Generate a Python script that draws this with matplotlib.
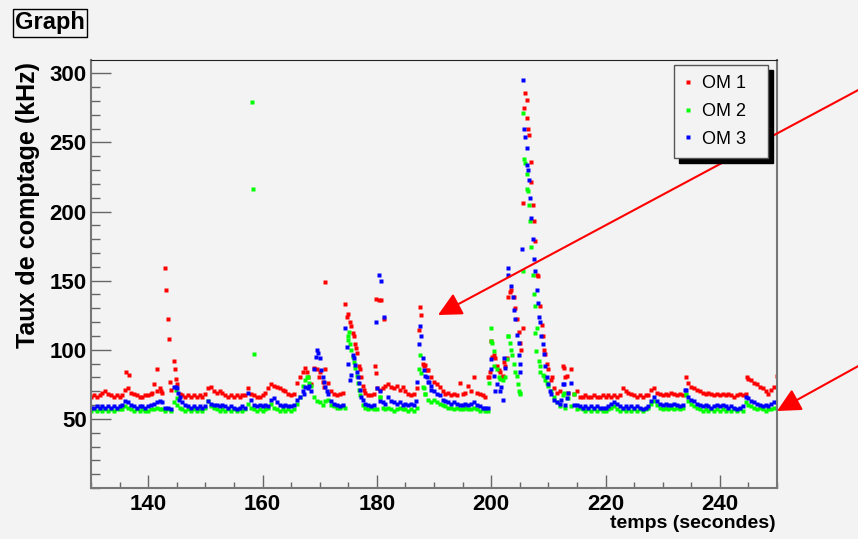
import numpy as np
import matplotlib
matplotlib.use("Agg")
import matplotlib.pyplot as plt
from matplotlib.ticker import MultipleLocator

# comptage des 3 OM, un point toutes les 0.5 s de 130 a 250 s
t0, t1, dt = 130.0, 250.0, 0.5

om1 = [
    66, 67, 66, 67, 69, 70, 68, 67, 66, 67,
    66, 67, 71, 72, 69, 68, 67, 66, 66, 67,
    67, 68, 75, 86, 72, 69, 159, 122, 71, 92,
    75, 68, 67, 66, 67, 66, 67, 66, 67, 66,
    68, 72, 73, 70, 69, 70, 69, 67, 66, 67,
    66, 67, 66, 67, 67, 72, 68, 67, 66, 66,
    67, 69, 72, 75, 74, 73, 72, 71, 70, 68,
    67, 68, 76, 80, 84, 87, 80, 75, 87, 86,
    84, 77, 86, 76, 70, 68, 67, 68, 69, 133,
    126, 117, 110, 98, 86, 74, 69, 67, 67, 68,
    72, 71, 72, 74, 75, 73, 72, 74, 71, 73,
    70, 68, 67, 68, 72, 131, 90, 89, 85, 80,
    77, 75, 73, 70, 68, 69, 67, 68, 67, 76,
    68, 69, 74, 70, 80, 69, 68, 67, 66, 80,
    106, 96, 88, 84, 81, 88, 138, 143, 138, 122,
    105, 116, 286, 260, 221, 193, 154, 132, 110, 97,
    86, 78, 72, 69, 70, 88, 80, 69, 86, 68,
    70, 66, 66, 67, 66, 66, 67, 66, 66, 67,
    66, 67, 66, 67, 66, 67, 72, 70, 69, 68,
    67, 66, 67, 66, 67, 67, 71, 72, 69, 68,
    67, 68, 67, 69, 68, 67, 68, 67, 80, 76,
    73, 72, 71, 70, 69, 68, 69, 68, 67, 68,
    67, 68, 67, 68, 67, 66, 67, 68, 67, 68,
    79, 78, 76, 75, 73, 72, 70, 68, 71, 73,
    81]

om2 = [
    56, 57, 56, 57, 56, 57, 56, 57, 56, 57,
    57, 57, 59, 58, 57, 56, 57, 56, 57, 56,
    56, 57, 57, 58, 57, 57, 56, 57, 56, 62,
    60, 58, 57, 56, 57, 56, 57, 56, 57, 56,
    58, 63, 59, 58, 57, 56, 57, 56, 57, 56,
    57, 56, 57, 56, 57, 61, 58, 57, 56, 57,
    56, 57, 58, 61, 58, 57, 56, 57, 56, 57,
    56, 57, 61, 66, 74, 78, 80, 74, 66, 63,
    62, 60, 63, 64, 60, 59, 58, 58, 59, 58,
    110, 100, 91, 81, 67, 60, 58, 57, 58, 57,
    57, 66, 58, 57, 58, 57, 56, 57, 58, 57,
    57, 56, 57, 56, 58, 96, 73, 68, 64, 62,
    64, 62, 61, 60, 59, 58, 58, 57, 58, 57,
    57, 58, 57, 57, 58, 57, 56, 57, 56, 56,
    106, 99, 86, 79, 78, 80, 110, 100, 90, 81,
    69, 157, 235, 215, 174, 140, 116, 88, 82, 78,
    74, 70, 66, 62, 59, 67, 58, 65, 59, 68,
    57, 58, 57, 56, 57, 56, 57, 56, 57, 56,
    56, 57, 58, 59, 57, 56, 57, 56, 57, 56,
    57, 56, 57, 56, 57, 58, 61, 63, 60, 58,
    57, 58, 57, 58, 57, 58, 57, 58, 68, 63,
    61, 59, 58, 57, 56, 57, 56, 57, 56, 57,
    56, 57, 56, 57, 56, 57, 56, 57, 56, 62,
    60, 59, 58, 57, 58, 57, 56, 57, 57, 58,
    58]

om3 = [
    58, 58, 59, 58, 59, 58, 59, 58, 59, 58,
    59, 60, 63, 62, 60, 59, 58, 59, 59, 58,
    59, 60, 61, 62, 63, 62, 58, 58, 57, 73,
    72, 66, 62, 60, 59, 58, 59, 58, 59, 58,
    59, 63, 61, 60, 60, 59, 60, 59, 58, 59,
    58, 57, 58, 59, 58, 69, 64, 60, 59, 60,
    59, 60, 59, 64, 65, 62, 60, 59, 60, 59,
    59, 60, 64, 66, 70, 73, 72, 70, 86, 100,
    94, 80, 73, 68, 63, 61, 60, 59, 60, 116,
    90, 82, 94, 84, 71, 64, 61, 60, 59, 60,
    72, 63, 62, 61, 66, 63, 62, 61, 62, 60,
    61, 60, 61, 60, 77, 117, 94, 81, 77, 71,
    70, 68, 67, 64, 63, 62, 61, 62, 61, 60,
    60, 61, 60, 61, 62, 60, 59, 58, 58, 58,
    86, 81, 75, 70, 64, 87, 159, 146, 129, 111,
    90, 295, 254, 230, 195, 166, 143, 120, 104, 88,
    75, 68, 64, 62, 61, 75, 60, 69, 76, 60,
    60, 59, 58, 59, 58, 59, 58, 59, 58, 58,
    58, 59, 61, 62, 61, 59, 58, 59, 58, 59,
    58, 59, 58, 57, 58, 59, 63, 66, 63, 61,
    60, 61, 60, 60, 61, 60, 59, 60, 71, 66,
    64, 63, 61, 60, 59, 60, 59, 58, 59, 60,
    59, 60, 59, 58, 59, 58, 57, 58, 59, 66,
    65, 63, 62, 61, 60, 59, 60, 59, 61, 62,
    62]

# points hors grille (pics), (temps, taux)
om1_extra = [(136.1, 84), (136.6, 82), (140.7, 69), (141.6, 70), (142.3, 70),
             (143.2, 143), (143.7, 108), (143.8, 77), (144.75, 86), (144.9, 79),
             (167.8, 84), (169.8, 80), (170.8, 73), (170.9, 149), (174.8, 124),
             (175.3, 120), (175.85, 112), (176.2, 104), (176.3, 101), (176.9, 88),
             (177.2, 80), (177.7, 71), (179.75, 88), (179.8, 83), (179.9, 137),
             (180.3, 136), (180.8, 136), (181.2, 122), (187.3, 114), (187.7, 125),
             (188.3, 88), (188.8, 85), (199.6, 80), (199.8, 84), (200.2, 95),
             (200.75, 94), (201.3, 85), (201.9, 80), (202.2, 91), (202.8, 94),
             (203.3, 142), (204.2, 130), (204.8, 113), (205.2, 100), (205.6, 206),
             (205.7, 275), (206.2, 281), (206.35, 268), (206.7, 255), (206.9, 236),
             (207.3, 205), (207.7, 179), (208.2, 153), (208.9, 118), (209.2, 100),
             (209.8, 90), (210.7, 80), (212.7, 87), (213.3, 81), (244.8, 80)]

om2_extra = [(144.8, 71), (145.1, 65), (158.2, 279), (158.35, 216), (158.6, 97),
             (167.8, 80), (168.1, 76), (174.9, 107), (175.1, 113), (175.3, 104),
             (175.8, 95), (176.2, 87), (176.7, 76), (176.9, 71), (180.6, 66),
             (187.3, 86), (187.8, 83), (188.2, 72), (188.4, 68), (199.7, 76),
             (199.9, 116), (200.2, 105), (200.45, 88), (201.3, 80), (202.8, 93),
             (202.9, 110), (203.3, 105), (203.7, 96), (204.2, 84), (204.65, 75),
             (204.8, 70), (205.1, 68), (205.6, 271), (205.7, 238), (206.2, 227),
             (206.35, 216), (206.7, 205), (206.8, 193), (207.3, 154), (207.6, 132),
             (207.75, 112), (207.9, 99), (208.3, 92), (208.6, 84), (209.2, 81),
             (209.8, 76), (212.7, 69), (234.0, 67)]

om3_extra = [(144.8, 73), (145.2, 69), (145.4, 64), (167.3, 68), (168.2, 74),
             (169.3, 95), (169.7, 98), (170.2, 85), (170.7, 77), (171.2, 70),
             (174.8, 102), (175.3, 78), (175.85, 96), (176.1, 89), (176.7, 80),
             (176.9, 76), (177.2, 66), (179.9, 120), (180.3, 154), (180.8, 150),
             (181.2, 124), (180.6, 70), (186.9, 63), (187.3, 104), (187.7, 110),
             (188.2, 85), (188.8, 80), (189.1, 77), (189.4, 74), (199.9, 93),
             (200.75, 70), (201.8, 73), (202.3, 94), (202.9, 154), (203.8, 138),
             (204.25, 122), (204.8, 105), (204.9, 96), (205.1, 84), (205.4, 173),
             (205.7, 260), (206.2, 246), (206.35, 234), (206.7, 223), (206.8, 210),
             (207.3, 180), (207.6, 157), (208.2, 134), (208.3, 124), (208.7, 110),
             (209.3, 97), (209.8, 80), (210.3, 70), (212.3, 64), (212.7, 75),
             (213.3, 65), (233.9, 71)]

labels = ["OM 1", "OM 2", "OM 3"]
colors = ["#ff0000", "#00ff00", "#0000ff"]
xticks = [140, 160, 180, 200, 220, 240]
yticks = [50, 100, 150, 200, 250, 300]

bg = "#f3f3f3"
plt.rcParams["font.family"] = ["Liberation Sans", "DejaVu Sans"]

fig = plt.figure(figsize=(8.58, 5.39), dpi=100, facecolor=bg)
ax = fig.add_axes([91 / 858, 1 - 488 / 539, 686 / 858, 428 / 539], facecolor=bg)

times = np.arange(t0, t1 + dt / 2, dt)
for grid, extra, lab, col in zip([om1, om2, om3], [om1_extra, om2_extra, om3_extra], labels, colors):
    tt = np.concatenate([times, [p[0] for p in extra]])
    vv = np.concatenate([grid, [p[1] for p in extra]])
    ax.plot(tt, vv, "s", ms=2.9, mec="none", color=col, label=lab)

ax.set_xlim(130, 250)
ax.set_ylim(0, 309.6)
ax.set_xticks(xticks)
ax.set_xticklabels([str(x) for x in xticks], fontsize=16, fontweight="bold")
ax.set_yticks(yticks)
ax.set_yticklabels([str(y) for y in yticks], fontsize=16, fontweight="bold")
ax.xaxis.set_minor_locator(MultipleLocator(5))
ax.yaxis.set_minor_locator(MultipleLocator(10))
ax.tick_params(axis="x", which="major", direction="in", length=9.5, width=1, color="#666666", pad=4)
ax.tick_params(axis="x", which="minor", direction="in", length=4, width=1, color="#666666")
ax.tick_params(axis="y", which="major", direction="in", length=14.5, width=1, color="#666666", pad=3)
ax.tick_params(axis="y", which="minor", direction="in", length=6.5, width=1, color="#666666")
for s in ["left", "bottom", "right"]:
    ax.spines[s].set_color("#777777")
    ax.spines[s].set_linewidth(1.5)
ax.spines["top"].set_color("#222222")
ax.spines["top"].set_linewidth(0.8)

leg = ax.legend(loc="upper left", bbox_to_anchor=(0.85, 0.778, 0.137, 0.21),
                mode="expand", borderaxespad=0,
                fontsize=13, frameon=True, fancybox=False, edgecolor="#555555",
                facecolor=bg, framealpha=1,
                shadow={"ox": 3.5, "oy": -3.5, "color": "black", "alpha": 1},
                handlelength=0.4, handletextpad=0.6, labelspacing=0.6, borderpad=0.55,
                markerscale=1.0)
leg.get_frame().set_linewidth(1)

fig.text(50 / 858, 1 - 23 / 539, "Graph", fontsize=17, fontweight="bold",
         ha="center", va="center",
         bbox=dict(boxstyle="square,pad=0.1", fc=bg, ec="black", lw=1))
fig.text(28 / 858, 1 - 205 / 539, "Taux de comptage (kHz)", rotation=90,
         fontsize=18, fontweight="bold", ha="center", va="center")
fig.text(776 / 858, 1 - 524 / 539, "temps (secondes)", fontsize=14,
         fontweight="bold", ha="right", va="center")

# fleches rouges
arrow = dict(arrowstyle="-|>,head_length=0.8,head_width=0.4", color="red", lw=1.5,
             mutation_scale=18, shrinkA=0, shrinkB=0)
ax.annotate("", xy=(438, 539 - 315), xycoords="figure pixels",
            xytext=(862, 539 - 88), textcoords="figure pixels",
            arrowprops=arrow, annotation_clip=False)
ax.annotate("", xy=(777, 539 - 411), xycoords="figure pixels",
            xytext=(862, 539 - 364), textcoords="figure pixels",
            arrowprops=arrow, annotation_clip=False)

fig.savefig("out.png", dpi=100, facecolor=bg)
